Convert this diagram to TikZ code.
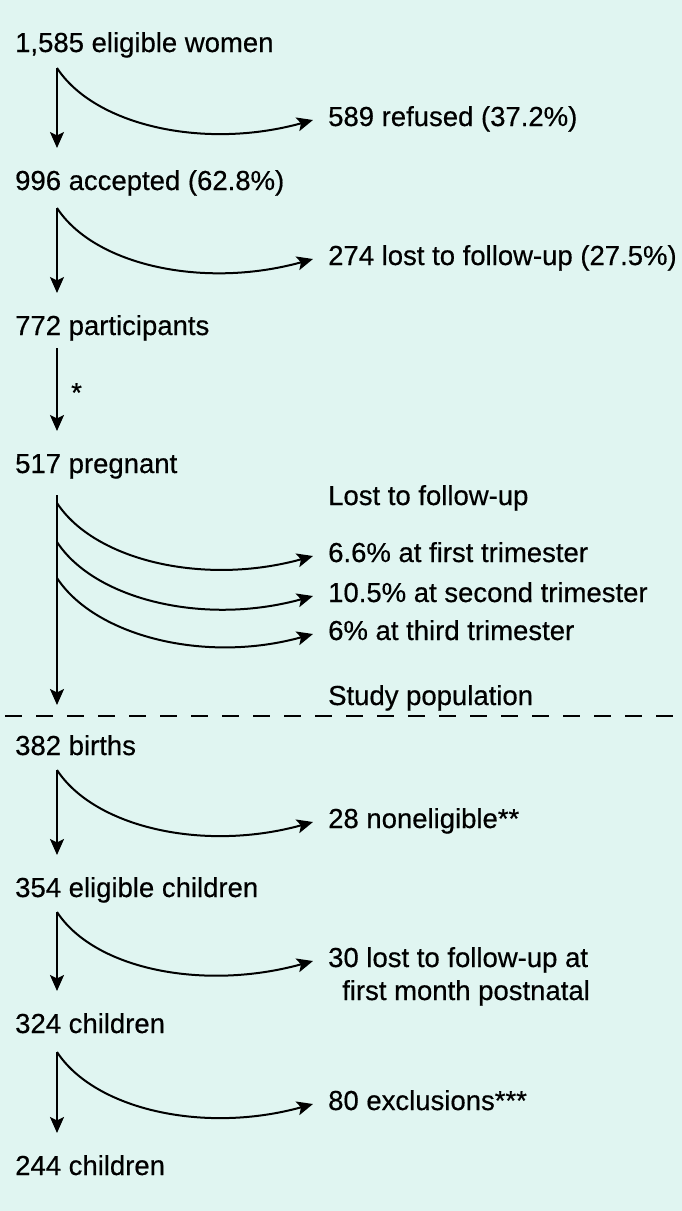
\documentclass[tikz,border=0pt]{standalone}
\usepackage{fontspec}
\newfontfamily\flowfont{Liberation Sans}[FakeBold=0.5]
\usetikzlibrary{arrows.meta}
\definecolor{bgmint}{RGB}{224,245,241}

\begin{document}
\begin{tikzpicture}[x=1pt, y=-1pt,
	every node/.style={font=\fontsize{27.5}{33}\flowfont, inner sep=0pt, anchor=base west},
	>={Stealth[length=16pt, width=14pt, inset=3.5pt]},
	flowline/.style={->, line width=2pt},
	downline/.style={flowline, shorten >=42pt},
	sepline/.style={line width=2pt, dash pattern=on 17pt off 14pt}]
	\fill[bgmint] (0,0) rectangle (682,1211);
	\useasboundingbox (0,0) rectangle (682,1211);
	% left column
	\node (elig) at (15,52) {1,585 eligible women};
	\node (accep) at (15,190) {996 accepted (62.8\%)};
	\node (partic) at (15,335) {772 participants};
	\node (pregn) at (15,473) {517 pregnant};
	\node (births) at (15,755) {382 births};
	\node (eligCh) at (15,897) {354 eligible children};
	\node (ch324) at (15,1033) {324 children};
	\node (ch244) at (15,1175) {244 children};
	% right column
	\node (refus) at (328,126) {589 refused (37.2\%)};
	\node (lostA) at (328,265) {274 lost to follow-up (27.5\%)};
	\node (lostHead) at (328,505) {Lost to follow-up};
	\node (triA) at (328,562) {6.6\% at first trimester};
	\node (triB) at (328,602) {10.5\% at second trimester};
	\node (triC) at (328,640) {6\% at third trimester};
	\node (studyPop) at (328,705) {Study population};
	\node (nonelig) at (328,828) {28 noneligible**};
	\node (lostB) at (328,967) {30 lost to follow-up at};
	\node (lostBb) at (342,1000) {first month postnatal};
	\node (excl) at (328,1110) {80 exclusions***};
	\node (star) at (71,402) {*};
	% where the arrows leave the main line
	\coordinate (o1) at (57,68);
	\coordinate (o2) at (57,208);
	\coordinate (o3) at (57,348);
	\coordinate (o4) at (57,495);
	\coordinate (t1) at (57,503);
	\coordinate (t2) at (57,542);
	\coordinate (t3) at (57,578);
	\coordinate (o5) at (57,770);
	\coordinate (o6) at (57,912);
	\coordinate (o7) at (57,1052);
	% main line
	\draw[downline] (o1) -- (o1 |- accep.base);
	\draw[downline] (o2) -- (o2 |- partic.base);
	\draw[downline] (o3) -- (o3 |- pregn.base);
	\draw[flowline] (o4) -- (o4 |- studyPop.base);
	\draw[downline] (o5) -- (o5 |- eligCh.base);
	\draw[downline] (o6) -- (o6 |- ch324.base);
	\draw[downline] (o7) -- (o7 |- ch244.base);
	% losses
	\draw[flowline] (o1) .. controls +(38,58) and +(-108,30) .. ([xshift=-15pt,yshift=6pt]refus.base west);
	\draw[flowline] (o2) .. controls +(38,58) and +(-108,30) .. ([xshift=-15pt,yshift=6pt]lostA.base west);
	\draw[flowline] (t1) .. controls +(38,58) and +(-108,30) .. ([xshift=-15pt,yshift=6pt]triA.base west);
	\draw[flowline] (t2) .. controls +(38,58) and +(-108,30) .. ([xshift=-15pt,yshift=6pt]triB.base west);
	\draw[flowline] (t3) .. controls +(38,58) and +(-108,30) .. ([xshift=-15pt,yshift=6pt]triC.base west);
	\draw[flowline] (o5) .. controls +(38,58) and +(-108,30) .. ([xshift=-15pt,yshift=6pt]nonelig.base west);
	\draw[flowline] (o6) .. controls +(38,58) and +(-108,30) .. ([xshift=-15pt,yshift=6pt]lostB.base west);
	\draw[flowline] (o7) .. controls +(38,58) and +(-108,30) .. ([xshift=-15pt,yshift=6pt]excl.base west);
	\draw[sepline] (5,716) -- (682,716);
\end{tikzpicture}
\end{document}
